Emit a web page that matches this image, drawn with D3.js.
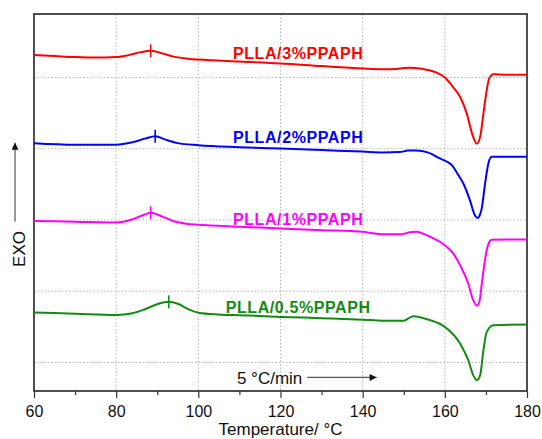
<!DOCTYPE html>
<html>
<head>
<meta charset="utf-8">
<script src="https://cdn.jsdelivr.net/npm/d3@7"></script>
<style>
  html, body { margin: 0; padding: 0; background: #fff; overflow: hidden; }
  svg { display: block; }
  text { font-family: "Liberation Sans", Arial, sans-serif; }
</style>
</head>
<body>
<svg id="dsc"></svg>
<script>
// DSC heating scans, heat flow in arbitrary (offset) units
const names = ['PLLA/3%PPAPH', 'PLLA/2%PPAPH', 'PLLA/1%PPAPH', 'PLLA/0.5%PPAPH'];

const temp3 = [60, 65, 70, 75, 80, 83, 86, 88.4, 91, 94, 97, 100, 110, 120, 130, 140, 145, 148, 150, 151.5, 154, 156.4, 158, 160, 162, 163.7, 165.3, 166.9, 167.8, 168.6, 169.4, 170.2, 170.8, 171.8, 173, 180];
const hf3 = [4.313, 4.299, 4.285, 4.278, 4.285, 4.313, 4.355, 4.373, 4.341, 4.292, 4.264, 4.250, 4.222, 4.196, 4.159, 4.126, 4.116, 4.119, 4.131, 4.137, 4.124, 4.096, 4.067, 3.999, 3.864, 3.728, 3.499, 3.166, 3.071, 3.166, 3.499, 3.822, 3.986, 4.046, 4.042, 4.036];

const temp2 = [60, 70, 80, 84, 87, 89.5, 92, 95, 100, 110, 120, 130, 140, 145, 149, 151, 153, 156, 158.8, 161.7, 163.3, 164.5, 166.1, 167.3, 168.0, 168.6, 169.0, 169.8, 170.6, 171.4, 173, 180];
const hf2 = [3.078, 3.057, 3.057, 3.092, 3.141, 3.176, 3.127, 3.078, 3.050, 3.022, 3.001, 2.980, 2.959, 2.947, 2.952, 2.973, 2.976, 2.945, 2.863, 2.769, 2.629, 2.512, 2.278, 2.067, 2.029, 2.081, 2.166, 2.512, 2.793, 2.886, 2.888, 2.888];

const temp1 = [60, 70, 80, 84, 86.5, 88.4, 91, 94, 97, 100, 110, 120, 130, 140, 145, 149.5, 151.5, 153, 156.4, 160, 162, 163.7, 165.7, 166.9, 167.8, 168.5, 169.0, 170.2, 170.8, 171.4, 180];
const hf1 = [1.987, 1.976, 1.965, 2.011, 2.067, 2.100, 2.053, 1.983, 1.948, 1.934, 1.906, 1.881, 1.857, 1.833, 1.801, 1.801, 1.829, 1.836, 1.764, 1.646, 1.534, 1.366, 1.109, 0.874, 0.797, 0.874, 1.109, 1.576, 1.688, 1.724, 1.726];

const temp05 = [60, 70, 80, 84, 87, 90, 92.8, 95, 97.5, 100, 105, 110, 120, 130, 140, 145, 149.9, 152.3, 156.4, 160, 163.7, 165.7, 166.9, 167.8, 168.6, 169.4, 170.2, 171.8, 180];
const hf05 = [0.702, 0.685, 0.668, 0.692, 0.748, 0.818, 0.851, 0.825, 0.748, 0.699, 0.674, 0.664, 0.640, 0.622, 0.601, 0.587, 0.584, 0.650, 0.594, 0.500, 0.267, 0.032, -0.178, -0.248, -0.178, 0.173, 0.429, 0.524, 0.533];

// cold crystallisation peak marks
const peakTemp = [88.4, 89.5, 88.4, 92.8];
const peakHf = [4.373, 3.176, 2.100, 0.851];

const xTicks = [60, 80, 100, 120, 140, 160, 180];
const colors = ['#ff0000', '#0000ff', '#ff00ff', '#138a13'];

const temps = [temp3, temp2, temp1, temp05];
const hfs = [hf3, hf2, hf1, hf05];

const width = 542;
const height = 439;
const margin = { top: 14, right: 15, bottom: 48, left: 34 };
const innerWidth = width - margin.left - margin.right;
const innerHeight = height - margin.top - margin.bottom;

const svg = d3.select('#dsc')
  .attr('width', width)
  .attr('height', height);

const g = svg.append('g')
  .attr('transform', `translate(${margin.left}, ${margin.top})`);

const x = d3.scaleLinear()
  .domain([60, 180])
  .range([0, innerWidth]);
const y = d3.scaleLinear()
  .domain([-0.4, 4.89])
  .range([innerHeight, 0]);

// Grid
g.append('g')
  .selectAll('line')
  .data(x.ticks(6).filter(d => d > 60 && d < 180))
  .enter().append('line')
    .attr('x1', d => x(d)).attr('x2', d => x(d))
    .attr('y1', 0).attr('y2', innerHeight)
    .attr('stroke', '#b4b4b4')
    .attr('stroke-dasharray', '1.5,2');

g.append('g')
  .selectAll('line')
  .data([0, 1, 2, 3, 4])
  .enter().append('line')
    .attr('x1', 0).attr('x2', innerWidth)
    .attr('y1', d => y(d)).attr('y2', d => y(d))
    .attr('stroke', '#b4b4b4')
    .attr('stroke-dasharray', '1.5,2');

// Minor x ticks
g.append('g')
  .attr('transform', `translate(0, ${innerHeight})`)
  .call(d3.axisBottom(x).tickValues(d3.range(70, 180, 20)).tickSize(4).tickFormat(''))
  .call(a => a.select('.domain').remove())
  .selectAll('line').attr('stroke', '#333').attr('stroke-width', 1.2);

// Major x ticks + labels
const xAxis = g.append('g')
  .attr('transform', `translate(0, ${innerHeight})`)
  .call(d3.axisBottom(x).tickValues(xTicks).tickSize(7).tickPadding(8).tickSizeOuter(0));
xAxis.select('.domain').remove();
xAxis.selectAll('line').attr('stroke', '#333').attr('stroke-width', 1.2);
xAxis.selectAll('text')
  .attr('font-size', 16)
  .attr('font-family', '"Liberation Sans", Arial, sans-serif')
  .attr('fill', '#111');

// Frame
g.append('rect')
  .attr('width', innerWidth)
  .attr('height', innerHeight)
  .attr('fill', 'none')
  .attr('stroke', '#3c3c3c')
  .attr('stroke-width', 1.8);

// Curves
const line = d3.line()
  .x(d => x(d[0]))
  .y(d => y(d[1]))
  .curve(d3.curveMonotoneX);

names.forEach((name, i) => {
  const pts = temps[i].map((t, j) => [t, hfs[i][j]]);
  g.append('path')
    .datum(pts)
    .attr('fill', 'none')
    .attr('stroke', colors[i])
    .attr('stroke-width', 2)
    .attr('stroke-linejoin', 'round')
    .attr('d', line);

  g.append('line')
    .attr('x1', x(peakTemp[i])).attr('x2', x(peakTemp[i]))
    .attr('y1', y(peakHf[i]) - 6.5).attr('y2', y(peakHf[i]) + 6.5)
    .attr('stroke', colors[i])
    .attr('stroke-width', 1.6);
});

// Series labels
const labelY = [4.253, 3.074, 1.927, 0.692];
names.forEach((name, i) => {
  g.append('text')
    .attr('x', x(124.3))
    .attr('y', y(labelY[i]))
    .attr('text-anchor', 'middle')
    .attr('font-size', 16)
    .attr('font-weight', 'bold')
    .attr('letter-spacing', 0.6)
    .attr('fill', colors[i])
    .text(name);
});

// Arrow marker
svg.append('defs').append('marker')
  .attr('id', 'head')
  .attr('viewBox', '0 0 10 10')
  .attr('refX', 10).attr('refY', 5)
  .attr('markerWidth', 11).attr('markerHeight', 7)
  .attr('markerUnits', 'userSpaceOnUse')
  .attr('orient', 'auto')
  .append('path')
    .attr('d', 'M0,0L10,5L0,10Z')
    .attr('fill', '#111');

// Heating rate
g.append('text')
  .attr('x', x(109.4))
  .attr('y', y(-0.3))
  .attr('font-size', 17)
  .attr('fill', '#111')
  .text('5 \u00B0C/min');

g.append('line')
  .attr('x1', x(126.5)).attr('x2', x(143.4))
  .attr('y1', y(-0.21)).attr('y2', y(-0.21))
  .attr('stroke', '#555')
  .attr('stroke-width', 1.2)
  .attr('marker-end', 'url(#head)');

// Axis titles
svg.append('text')
  .attr('x', margin.left + innerWidth / 2)
  .attr('y', 434.5)
  .attr('text-anchor', 'middle')
  .attr('font-size', 17)
  .attr('fill', '#111')
  .text('Temperature/ \u00B0C');

svg.append('text')
  .attr('transform', 'translate(25, 249) rotate(-90)')
  .attr('text-anchor', 'middle')
  .attr('font-size', 17)
  .attr('fill', '#111')
  .text('EXO');

svg.append('line')
  .attr('x1', 15).attr('x2', 15)
  .attr('y1', 221.7).attr('y2', 142.7)
  .attr('stroke', '#555')
  .attr('stroke-width', 1.2)
  .attr('marker-end', 'url(#head)');
</script>
</body>
</html>
